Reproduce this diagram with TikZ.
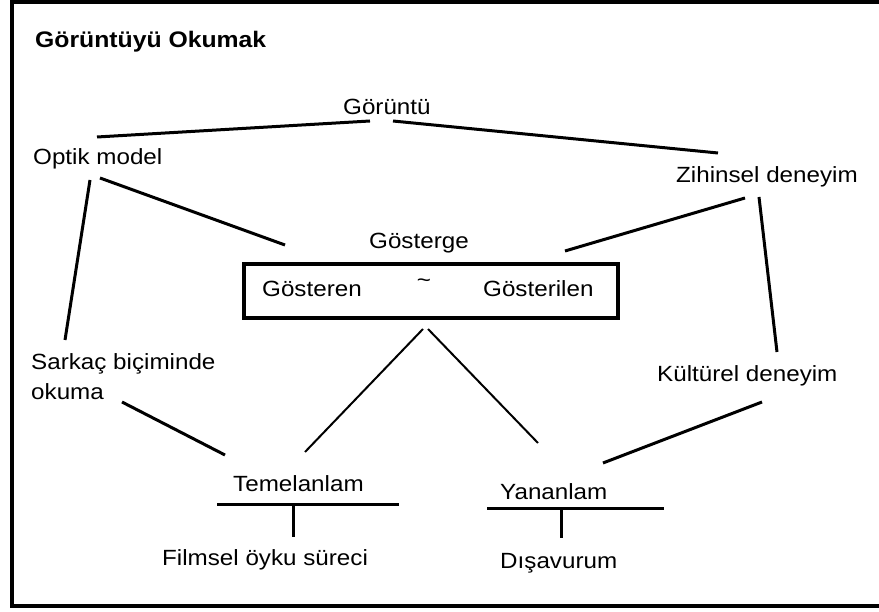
\documentclass[tikz,border=0pt]{standalone}
\usepackage{fontspec}
\setmainfont{Liberation Sans}[FakeStretch=1.1]
\begin{document}
\begin{tikzpicture}[x=1pt,y=-1pt,
  lbl/.style={anchor=base west,inner sep=0pt,font=\fontsize{22}{26}\selectfont},
  ttl/.style={anchor=base west,inner sep=0pt,font=\fontsize{22.5}{27}\selectfont\bfseries},
  heavy/.style={line width=3pt},
  fine/.style={line width=2pt},
  bar/.style={line width=3pt}]
\useasboundingbox (0,0) rectangle (879,612);

% open frame
\draw[line width=4pt] (885,2) -- (12,2) -- (12,606) -- (885,606);

% labels
\node[ttl] (title) at (35,48) {Görüntüyü Okumak};
\node[lbl] (img) at (343,115) {Görüntü};
\node[lbl] (optik) at (33,165) {Optik model};
\node[lbl] (zihin) at (676,183) {Zihinsel deneyim};
\node[lbl] (gosterge) at (369,249) {Gösterge};
\node[draw,line width=4pt,minimum width=374pt,minimum height=54pt,
      anchor=north west,inner sep=0pt] (sign) at (242,262) {};
\node[lbl] (gosteren) at (262,297) {Gösteren};
\node[inner sep=0pt,font=\fontsize{22}{26}\selectfont] (tilde) at (424,283) {\textasciitilde};
\node[lbl] (gosterilen) at (483,297) {Gösterilen};
\node[lbl] (sarkac) at (31,370) {Sarkaç biçiminde};
\node[lbl] (okuma) at (31,400) {okuma};
\node[lbl] (kultur) at (657,382) {Kültürel deneyim};
\node[lbl] (temel) at (233,491) {Temelanlam};
\node[lbl] (film) at (162,565) {Filmsel öyku süreci};
\node[lbl] (yan) at (500,500) {Yananlam};
\node[lbl] (disa) at (500,568) {Dışavurum};

% connector ends
\coordinate (img-l) at (370,121);
\coordinate (img-r) at (393,121);
\coordinate (optik-t) at (97,137);
\coordinate (optik-r) at (100,178);
\coordinate (optik-b) at (90,180);
\coordinate (zihin-t) at (718,153);
\coordinate (zihin-l) at (745,198);
\coordinate (zihin-b) at (759,197);
\coordinate (sign-l) at (285,245);
\coordinate (sign-r) at (565,251);
\coordinate (sign-bl) at (423,329);
\coordinate (sign-br) at (428,329);
\coordinate (sarkac-t) at (65,340);
\coordinate (okuma-r) at (122,402);
\coordinate (kultur-t) at (777,352);
\coordinate (kultur-l) at (762,402);
\coordinate (temel-l) at (225,455);
\coordinate (temel-r) at (305,452);
\coordinate (yan-l) at (538,443);
\coordinate (yan-r) at (603,463);
\coordinate (temel-bar-l) at (217,504);
\coordinate (temel-bar-r) at (399,504);
\coordinate (temel-stem) at (293,504);
\coordinate (film-t) at (293,537);
\coordinate (yan-bar-l) at (487,508);
\coordinate (yan-bar-r) at (664,508);
\coordinate (yan-stem) at (561,508);
\coordinate (disa-t) at (561,538);

% connectors
\draw[heavy] (img-l) -- (optik-t);
\draw[heavy] (img-r) -- (zihin-t);
\draw[heavy] (optik-r) -- (sign-l);
\draw[heavy] (optik-b) -- (sarkac-t);
\draw[heavy] (zihin-l) -- (sign-r);
\draw[heavy] (zihin-b) -- (kultur-t);
\draw[heavy] (okuma-r) -- (temel-l);
\draw[heavy] (kultur-l) -- (yan-r);
\draw[fine] (sign-bl) -- (temel-r);
\draw[fine] (sign-br) -- (yan-l);

% underlines with stems
\draw[bar] (temel-bar-l) -- (temel-bar-r);
\draw[bar] (temel-stem) -- (film-t);
\draw[bar] (yan-bar-l) -- (yan-bar-r);
\draw[bar] (yan-stem) -- (disa-t);
\end{tikzpicture}
\end{document}
